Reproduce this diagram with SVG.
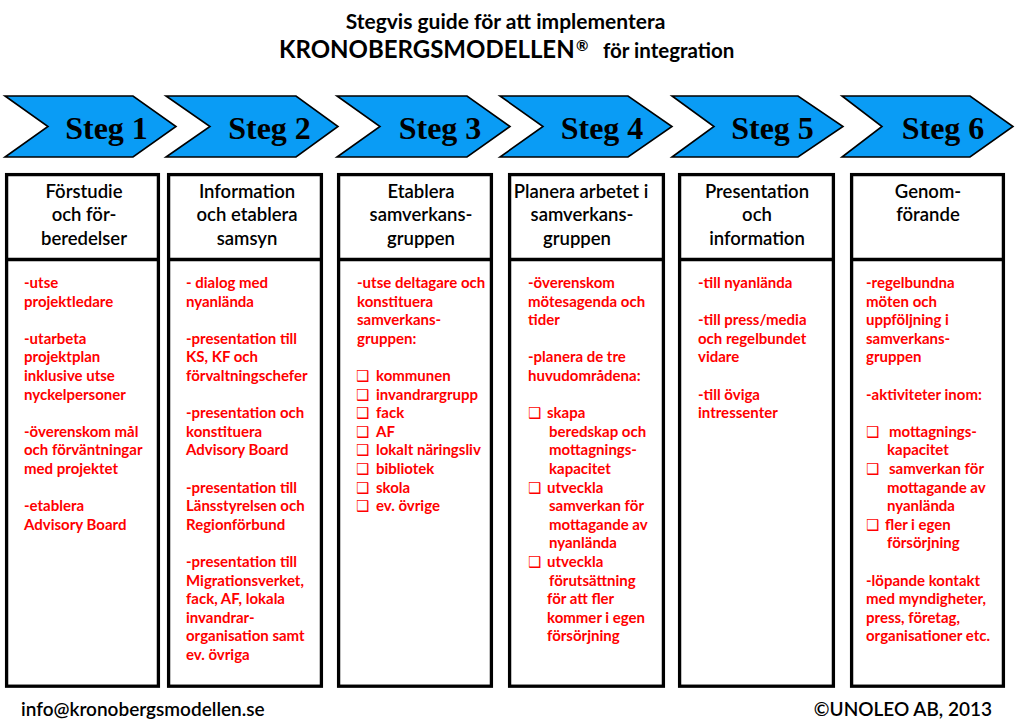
<svg xmlns="http://www.w3.org/2000/svg" width="1017" height="720" viewBox="0 0 1017 720">
<style>
.ttl{font-family:Lato,"Liberation Sans",sans-serif;font-weight:700;fill:#000}
.chev{fill:#0a9cf5;stroke:#000;stroke-width:1.6;stroke-linejoin:miter}
.steg{font-family:"Liberation Serif","Times New Roman",serif;font-weight:700;font-size:32px;fill:#000;text-anchor:middle}
.box{fill:#fff;stroke:#000;stroke-width:3.3}
.hd{font-family:Lato,"Liberation Sans",sans-serif;font-weight:600;font-size:18.5px;fill:#000;text-anchor:middle}
.bd{font-family:Lato,"Liberation Sans",sans-serif;font-weight:700;font-size:15px;fill:#ff0000}
.cb{font-family:"DejaVu Sans",sans-serif;font-weight:700;font-size:15px}
.ft{font-family:Lato,"Liberation Sans",sans-serif;font-weight:600;font-size:19px;fill:#000}
</style>
<rect width="1017" height="720" fill="#fff"/>
<g id="title">
<text class="ttl" x="505.5" y="29" font-size="21" text-anchor="middle">Stegvis guide för att implementera</text>
<text class="ttl" y="58"><tspan x="279" font-size="24">KRONOBERGSMODELLEN</tspan><tspan x="576" y="51" font-size="15">®</tspan><tspan x="603" y="58" font-size="20.5">för integration</tspan></text>
</g>
<g id="steps">
<g id="steg1"><polygon class="chev" points="5,96 133,96 176,126.5 133,157 5,157 48,126.5"/><text class="steg" x="106.5" y="139">Steg 1</text></g>
<g id="steg2"><polygon class="chev" points="166,96 296,96 338,126.5 296,157 166,157 210,126.5"/><text class="steg" x="269.5" y="139">Steg 2</text></g>
<g id="steg3"><polygon class="chev" points="337,96 467,96 510,126.5 467,157 337,157 380,126.5"/><text class="steg" x="440" y="139">Steg 3</text></g>
<g id="steg4"><polygon class="chev" points="500,96 628,96 672,126.5 628,157 500,157 543,126.5"/><text class="steg" x="602" y="139">Steg 4</text></g>
<g id="steg5"><polygon class="chev" points="672,96 798,96 843,126.5 798,157 672,157 714,126.5"/><text class="steg" x="772.5" y="139">Steg 5</text></g>
<g id="steg6"><polygon class="chev" points="842,96 970,96 1013,126.5 970,157 842,157 882,126.5"/><text class="steg" x="943" y="139">Steg 6</text></g>
</g>
<g id="col1">
<rect class="box" x="6.6" y="174.6" width="151.8" height="511.6"/><line class="box" x1="6.6" y1="259.5" x2="158.4" y2="259.5"/>
<text class="hd"><tspan x="84" y="197.5">Förstudie</tspan><tspan x="84" y="221">och för-</tspan><tspan x="84" y="244.5">beredelser</tspan></text>
<text class="bd"><tspan x="24" y="288">-utse</tspan><tspan x="24" y="306.6">projektledare</tspan><tspan x="24" y="343.8">-utarbeta</tspan><tspan x="24" y="362.4">projektplan</tspan><tspan x="24" y="381">inklusive utse</tspan><tspan x="24" y="399.6">nyckelpersoner</tspan><tspan x="24" y="436.8">-överenskom mål</tspan><tspan x="24" y="455.4">och förväntningar</tspan><tspan x="24" y="474">med projektet</tspan><tspan x="24" y="511.2">-etablera</tspan><tspan x="24" y="529.8">Advisory Board</tspan></text>
</g>
<g id="col2">
<rect class="box" x="168.6" y="174.6" width="152.8" height="511.6"/><line class="box" x1="168.6" y1="259.5" x2="321.4" y2="259.5"/>
<text class="hd"><tspan x="247" y="197.5">Information</tspan><tspan x="247" y="221">och etablera</tspan><tspan x="247" y="244.5">samsyn</tspan></text>
<text class="bd"><tspan x="186" y="288">- dialog med</tspan><tspan x="186" y="306.6">nyanlända</tspan><tspan x="186" y="343.8">-presentation till</tspan><tspan x="186" y="362.4">KS, KF och</tspan><tspan x="186" y="381">förvaltningschefer</tspan><tspan x="186" y="418.2">-presentation och</tspan><tspan x="186" y="436.8">konstituera</tspan><tspan x="186" y="455.4">Advisory Board</tspan><tspan x="186" y="492.6">-presentation till</tspan><tspan x="186" y="511.2">Länsstyrelsen och</tspan><tspan x="186" y="529.8">Regionförbund</tspan><tspan x="186" y="567">-presentation till</tspan><tspan x="186" y="585.6">Migrationsverket,</tspan><tspan x="186" y="604.2">fack, AF, lokala</tspan><tspan x="186" y="622.8">invandrar-</tspan><tspan x="186" y="641.4">organisation samt</tspan><tspan x="186" y="660">ev. övriga</tspan></text>
</g>
<g id="col3">
<rect class="box" x="338.6" y="174.6" width="152.8" height="511.6"/><line class="box" x1="338.6" y1="259.5" x2="491.4" y2="259.5"/>
<text class="hd"><tspan x="421" y="197.5">Etablera</tspan><tspan x="421" y="221">samverkans-</tspan><tspan x="421" y="244.5">gruppen</tspan></text>
<text class="bd"><tspan x="357" y="288">-utse deltagare och</tspan><tspan x="357" y="306.6">konstituera</tspan><tspan x="357" y="325.2">samverkans-</tspan><tspan x="357" y="343.8">gruppen:</tspan>
<tspan class="cb" x="356" y="381">❑</tspan><tspan x="376" y="381">kommunen</tspan>
<tspan class="cb" x="356" y="399.6">❑</tspan><tspan x="376" y="399.6">invandrargrupp</tspan>
<tspan class="cb" x="356" y="418.2">❑</tspan><tspan x="376" y="418.2">fack</tspan>
<tspan class="cb" x="356" y="436.8">❑</tspan><tspan x="376" y="436.8">AF</tspan>
<tspan class="cb" x="356" y="455.4">❑</tspan><tspan x="376" y="455.4">lokalt näringsliv</tspan>
<tspan class="cb" x="356" y="474">❑</tspan><tspan x="376" y="474">bibliotek</tspan>
<tspan class="cb" x="356" y="492.6">❑</tspan><tspan x="376" y="492.6">skola</tspan>
<tspan class="cb" x="356" y="511.2">❑</tspan><tspan x="376" y="511.2">ev. övrige</tspan></text>
</g>
<g id="col4">
<rect class="box" x="509.6" y="174.6" width="153.8" height="511.6"/><line class="box" x1="509.6" y1="259.5" x2="663.4" y2="259.5"/>
<text class="hd"><tspan x="581" y="197.5">Planera arbetet i</tspan><tspan x="582" y="221">samverkans-</tspan><tspan x="577" y="244.5">gruppen</tspan></text>
<text class="bd"><tspan x="528" y="288">-överenskom</tspan><tspan x="528" y="306.6">mötesagenda och</tspan><tspan x="528" y="325.2">tider</tspan><tspan x="528" y="362.4">-planera de tre</tspan><tspan x="528" y="381">huvudområdena:</tspan>
<tspan class="cb" x="528" y="418.2">❑</tspan><tspan x="547" y="418.2">skapa</tspan><tspan x="549" y="436.8">beredskap och</tspan><tspan x="549" y="455.4">mottagnings-</tspan><tspan x="549" y="474">kapacitet</tspan>
<tspan class="cb" x="528" y="492.6">❑</tspan><tspan x="547" y="492.6">utveckla</tspan><tspan x="549" y="511.2">samverkan för</tspan><tspan x="549" y="529.8">mottagande av</tspan><tspan x="549" y="548.4">nyanlända</tspan>
<tspan class="cb" x="528" y="567">❑</tspan><tspan x="547" y="567">utveckla</tspan><tspan x="549" y="585.6">förutsättning</tspan><tspan x="547" y="604.2">för att fler</tspan><tspan x="547" y="622.8">kommer i egen</tspan><tspan x="547" y="641.4">försörjning</tspan></text>
</g>
<g id="col5">
<rect class="box" x="679.6" y="174.6" width="153.8" height="511.6"/><line class="box" x1="679.6" y1="259.5" x2="833.4" y2="259.5"/>
<text class="hd"><tspan x="757" y="197.5">Presentation</tspan><tspan x="757" y="221">och</tspan><tspan x="757" y="244.5">information</tspan></text>
<text class="bd"><tspan x="698" y="288">-till nyanlända</tspan><tspan x="698" y="325.2">-till press/media</tspan><tspan x="698" y="343.8">och regelbundet</tspan><tspan x="698" y="362.4">vidare</tspan><tspan x="698" y="399.6">-till öviga</tspan><tspan x="698" y="418.2">intressenter</tspan></text>
</g>
<g id="col6">
<rect class="box" x="851.6" y="174.6" width="151.8" height="511.6"/><line class="box" x1="851.6" y1="259.5" x2="1003.4" y2="259.5"/>
<text class="hd"><tspan x="928" y="197.5">Genom-</tspan><tspan x="928" y="221">förande</tspan></text>
<text class="bd"><tspan x="866" y="288">-regelbundna</tspan><tspan x="866" y="306.6">möten och</tspan><tspan x="866" y="325.2">uppföljning i</tspan><tspan x="866" y="343.8">samverkans-</tspan><tspan x="866" y="362.4">gruppen</tspan><tspan x="866" y="399.6">-aktiviteter inom:</tspan>
<tspan class="cb" x="866" y="436.8">❑</tspan><tspan x="889" y="436.8">mottagnings-</tspan><tspan x="887" y="455.4">kapacitet</tspan>
<tspan class="cb" x="866" y="474">❑</tspan><tspan x="889" y="474">samverkan för</tspan><tspan x="887" y="492.6">mottagande av</tspan><tspan x="887" y="511.2">nyanlända</tspan>
<tspan class="cb" x="866" y="529.8">❑</tspan><tspan x="885" y="529.8">fler i egen</tspan><tspan x="887" y="548.4">försörjning</tspan>
<tspan x="866" y="585.6">-löpande kontakt</tspan><tspan x="866" y="604.2">med myndigheter,</tspan><tspan x="866" y="622.8">press, företag,</tspan><tspan x="866" y="641.4">organisationer etc.</tspan></text>
</g>
<g id="footer">
<text class="ft" x="21" y="716">info@kronobergsmodellen.se</text>
<text class="ft" x="992" y="716" text-anchor="end">©UNOLEO AB, 2013</text>
</g>
<g id="connectors"></g>
</svg>
